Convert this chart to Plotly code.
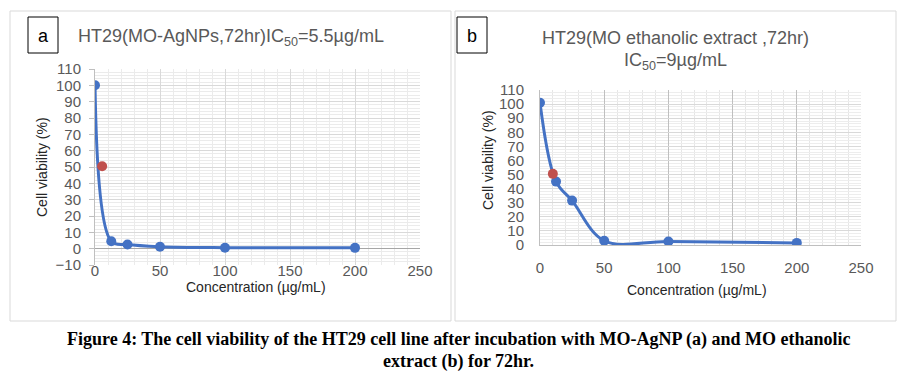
import plotly.graph_objects as go

W, H = 906, 390

# Panel a data (MO-AgNPs)
conc_a = [0, 12.5, 25, 50, 100, 200]
viab_a = [100, 4.5, 2.5, 1.2, 0.6, 0.5]
ic50_a_x = [5.5]
ic50_a_y = [50.5]

# Panel b data (MO ethanolic extract)
conc_b = [0, 12.5, 25, 50, 100, 200]
viab_b = [101, 45, 31.5, 3, 2.5, 1.5]
ic50_b_x = [10]
ic50_b_y = [50.5]

x_ticks = [0, 50, 100, 150, 200, 250]
y_ticks_a = list(range(-10, 111, 10))
y_ticks_b = list(range(0, 111, 10))

BLUE = "#4472C4"
RED = "#C0504D"
TICK = "#595959"

def px(x): return x / W
def py(y): return 1 - y / H

fig = go.Figure()

fig.add_trace(go.Scatter(x=conc_a, y=viab_a, mode="lines+markers",
                         line=dict(color=BLUE, width=3, shape="spline", smoothing=1.0),
                         marker=dict(color=BLUE, size=10), xaxis="x", yaxis="y", showlegend=False))
fig.add_trace(go.Scatter(x=ic50_a_x, y=ic50_a_y, mode="markers",
                         marker=dict(color=RED, size=10), xaxis="x", yaxis="y", showlegend=False))
fig.add_trace(go.Scatter(x=conc_b, y=viab_b, mode="lines+markers",
                         line=dict(color=BLUE, width=3, shape="spline", smoothing=1.0),
                         marker=dict(color=BLUE, size=10), xaxis="x2", yaxis="y2", showlegend=False))
fig.add_trace(go.Scatter(x=ic50_b_x, y=ic50_b_y, mode="markers",
                         marker=dict(color=RED, size=10), xaxis="x2", yaxis="y2", showlegend=False))

tickfont = dict(family="Liberation Sans, Arial", size=15, color=TICK)

fig.update_layout(
    width=W, height=H, margin=dict(l=0, r=0, t=0, b=0, autoexpand=False),
    paper_bgcolor="white", plot_bgcolor="white",
    xaxis=dict(domain=[px(95), px(420)], anchor="y", range=[0, 250], tickvals=x_ticks,
               automargin=False,
               showgrid=True, gridcolor="#D9D9D9", gridwidth=1,
               minor=dict(dtick=10, showgrid=True, gridcolor="#EBEBEB"),
               zeroline=False, showline=False, tickfont=tickfont, ticks="", ticklabelstandoff=-5),
    yaxis=dict(domain=[py(265), py(69)], anchor="x", range=[-10, 110], tickvals=y_ticks_a,
               automargin=False,
               showgrid=True, gridcolor="#D9D9D9", gridwidth=1,
               minor=dict(dtick=2, showgrid=True, gridcolor="#EBEBEB"),
               zeroline=True, zerolinecolor="#A6A6A6", zerolinewidth=1,
               showline=True, linecolor="#BFBFBF", ticks="outside", ticklen=5, tickcolor="#BFBFBF",
               tickfont=tickfont, ticklabelstandoff=5),
    xaxis2=dict(domain=[px(540), px(861)], anchor="y2", range=[0, 250], tickvals=x_ticks,
                automargin=False,
                showgrid=True, gridcolor="#BFBFBF", gridwidth=1,
                minor=dict(dtick=10, showgrid=True, gridcolor="#E6E6E6"),
                zeroline=False, showline=True, linecolor="#BFBFBF", tickfont=tickfont, ticks="",
                ticklabelstandoff=9),
    yaxis2=dict(domain=[py(245), py(90)], anchor="x2", range=[0, 110], tickvals=y_ticks_b,
                automargin=False,
                showgrid=True, gridcolor="#D9D9D9", gridwidth=1,
                minor=dict(dtick=2, showgrid=True, gridcolor="#EDEDED"),
                zeroline=False, showline=True, linecolor="#BFBFBF", ticks="",
                tickfont=tickfont, ticklabelstandoff=12),
)

shapes = []
# panel borders
shapes.append(dict(type="rect", xref="paper", yref="paper", x0=px(10), x1=px(451), y0=py(321), y1=py(11),
                   line=dict(color="#D9D9D9", width=1), fillcolor="rgba(0,0,0,0)", layer="below"))
shapes.append(dict(type="rect", xref="paper", yref="paper", x0=px(455), x1=px(896), y0=py(321), y1=py(11),
                   line=dict(color="#D9D9D9", width=1), fillcolor="rgba(0,0,0,0)", layer="below"))
# label boxes
shapes.append(dict(type="rect", xref="paper", yref="paper", x0=px(28), x1=px(58), y0=py(53), y1=py(17),
                   line=dict(color="black", width=1), fillcolor="white"))
shapes.append(dict(type="rect", xref="paper", yref="paper", x0=px(457), x1=px(487), y0=py(53), y1=py(17),
                   line=dict(color="black", width=1), fillcolor="white"))
fig.update_layout(shapes=shapes)

ann = []
def A(text, x, y, size, color="#000", xanchor="center", family="Liberation Sans, Arial", angle=0):
    ann.append(dict(text=text, x=px(x), y=py(y), xref="paper", yref="paper", showarrow=False,
                    xanchor=xanchor, yanchor="middle", textangle=angle,
                    font=dict(family=family, size=size, color=color)))

A("a", 43, 36, 18)
A("b", 472, 36, 18)
A("HT29(MO-AgNPs,72hr)IC<sub>50</sub>=5.5µg/mL", 76, 37, 18, TICK, xanchor="left")
A("HT29(MO ethanolic extract ,72hr)", 675, 38, 18, TICK)
A("IC<sub>50</sub>=9µg/mL", 675, 61, 18, TICK)
A("Cell viability (%)", 42, 167, 14, "#262626", angle=-90)
A("Cell viability (%)", 488, 160, 14, "#262626", angle=-90)
A("Concentration (µg/mL)", 256, 287, 14, "#262626")
A("Concentration (µg/mL)", 697, 290, 14, "#262626")
A("<b>Figure 4: The cell viability of the HT29 cell line after incubation with MO-AgNP (a) and MO ethanolic</b>",
  458, 339, 18, "#000", family="Liberation Serif, Times New Roman")
A("<b>extract (b) for 72hr.</b>", 458, 361, 18, "#000", family="Liberation Serif, Times New Roman")
fig.update_layout(annotations=ann)

fig.write_html("out.html", config={"displayModeBar": False},
               post_script="document.body.style.margin='0';document.body.style.overflow='hidden';")
